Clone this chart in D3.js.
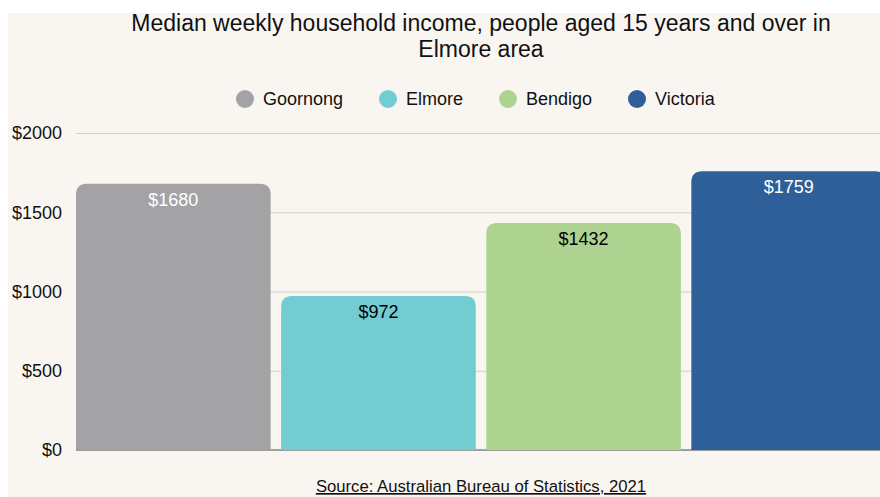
<!DOCTYPE html>
<html>
<head>
<meta charset="utf-8">
<script src="https://cdn.jsdelivr.net/npm/d3@7"></script>
<style>
  body { margin: 0; background: #ffffff; }
  svg { display: block; font-family: "Liberation Sans", Arial, sans-serif; }
</style>
</head>
<body>
<div id="chart"></div>
<script>
// data
let areas = ["Goornong", "Elmore", "Bendigo", "Victoria"];
let incomes = [1680, 972, 1432, 1759];
let colors = ["#a3a3a5", "#73ccd2", "#aed391", "#2e5f98"];
let labelColors = ["#ffffff", "#000000", "#000000", "#ffffff"];
let yTicks = [0, 500, 1000, 1500, 2000];
let titleLines = ["Median weekly household income, people aged 15 years and over in", "Elmore area"];
let sourceText = "Source: Australian Bureau of Statistics, 2021";

let width = 880, height = 497;

let svg = d3.select("#chart")
    .append("svg")
    .attr("width", width)
    .attr("height", height);

// panel background (white strip at top / left like the original)
svg.append("rect")
    .attr("x", 8).attr("y", 13)
    .attr("width", width - 8).attr("height", height - 13)
    .attr("fill", "#f9f6f1");

let x = d3.scaleBand()
    .domain(areas)
    .range([76, 886])
    .paddingInner(0.051)
    .paddingOuter(0);

let y = d3.scaleLinear()
    .domain([0, 2000])
    .range([450, 133]);

// title
svg.append("g").selectAll("text")
    .data(titleLines)
    .enter()
    .append("text")
    .attr("x", 481)
    .attr("y", function(d, i) { return 31 + i * 26; })
    .attr("text-anchor", "middle")
    .attr("font-size", 23)
    .attr("fill", "#111")
    .text(function(d) { return d; });

// legend
let legendX = [245, 388, 508, 637];
let legend = svg.append("g").selectAll("g")
    .data(areas)
    .enter()
    .append("g")
    .attr("transform", function(d, i) { return "translate(" + legendX[i] + ",99)"; });

legend.append("circle")
    .attr("r", 9)
    .attr("fill", function(d, i) { return colors[i]; });

legend.append("text")
    .attr("x", 18)
    .attr("dy", "0.35em")
    .attr("font-size", 18)
    .attr("fill", "#111")
    .text(function(d) { return d; });

// y axis + gridlines
let yAxis = svg.append("g")
    .attr("transform", "translate(76,0)")
    .call(d3.axisLeft(y)
        .tickValues(yTicks)
        .tickSize(-(width - 76))
        .tickPadding(14)
        .tickFormat(function(d) { return "$" + d; }));

yAxis.select(".domain").remove();
yAxis.selectAll(".tick line")
    .attr("stroke", "#d2cec8")
    .attr("stroke-width", 1);
yAxis.selectAll(".tick text")
    .attr("font-size", 18)
    .attr("fill", "#111")
    .attr("font-family", "\"Liberation Sans\", Arial, sans-serif");

// baseline
svg.append("line")
    .attr("x1", 76).attr("x2", width)
    .attr("y1", y(0)).attr("y2", y(0))
    .attr("stroke", "#8a8a8a")
    .attr("stroke-width", 1.5);

// bars with rounded top corners
let r = 11;
function barPath(x0, w, yTop, yBase) {
    return "M" + x0 + "," + yBase +
        "V" + (yTop + r) +
        "Q" + x0 + "," + yTop + " " + (x0 + r) + "," + yTop +
        "H" + (x0 + w - r) +
        "Q" + (x0 + w) + "," + yTop + " " + (x0 + w) + "," + (yTop + r) +
        "V" + yBase + "Z";
}

let bars = svg.append("g").selectAll("g")
    .data(areas)
    .enter()
    .append("g");

bars.append("path")
    .attr("d", function(d, i) {
        return barPath(x(d), x.bandwidth(), y(incomes[i]), y(0));
    })
    .attr("fill", function(d, i) { return colors[i]; });

bars.append("text")
    .attr("x", function(d) { return x(d) + x.bandwidth() / 2; })
    .attr("y", function(d, i) { return y(incomes[i]) + 22; })
    .attr("text-anchor", "middle")
    .attr("font-size", 18)
    .attr("fill", function(d, i) { return labelColors[i]; })
    .text(function(d, i) { return "$" + incomes[i]; });

// source
svg.append("text")
    .attr("x", 481)
    .attr("y", 492)
    .attr("text-anchor", "middle")
    .attr("font-size", 16.7)
    .attr("fill", "#111")
    .attr("text-decoration", "underline")
    .text(sourceText);
</script>
</body>
</html>
